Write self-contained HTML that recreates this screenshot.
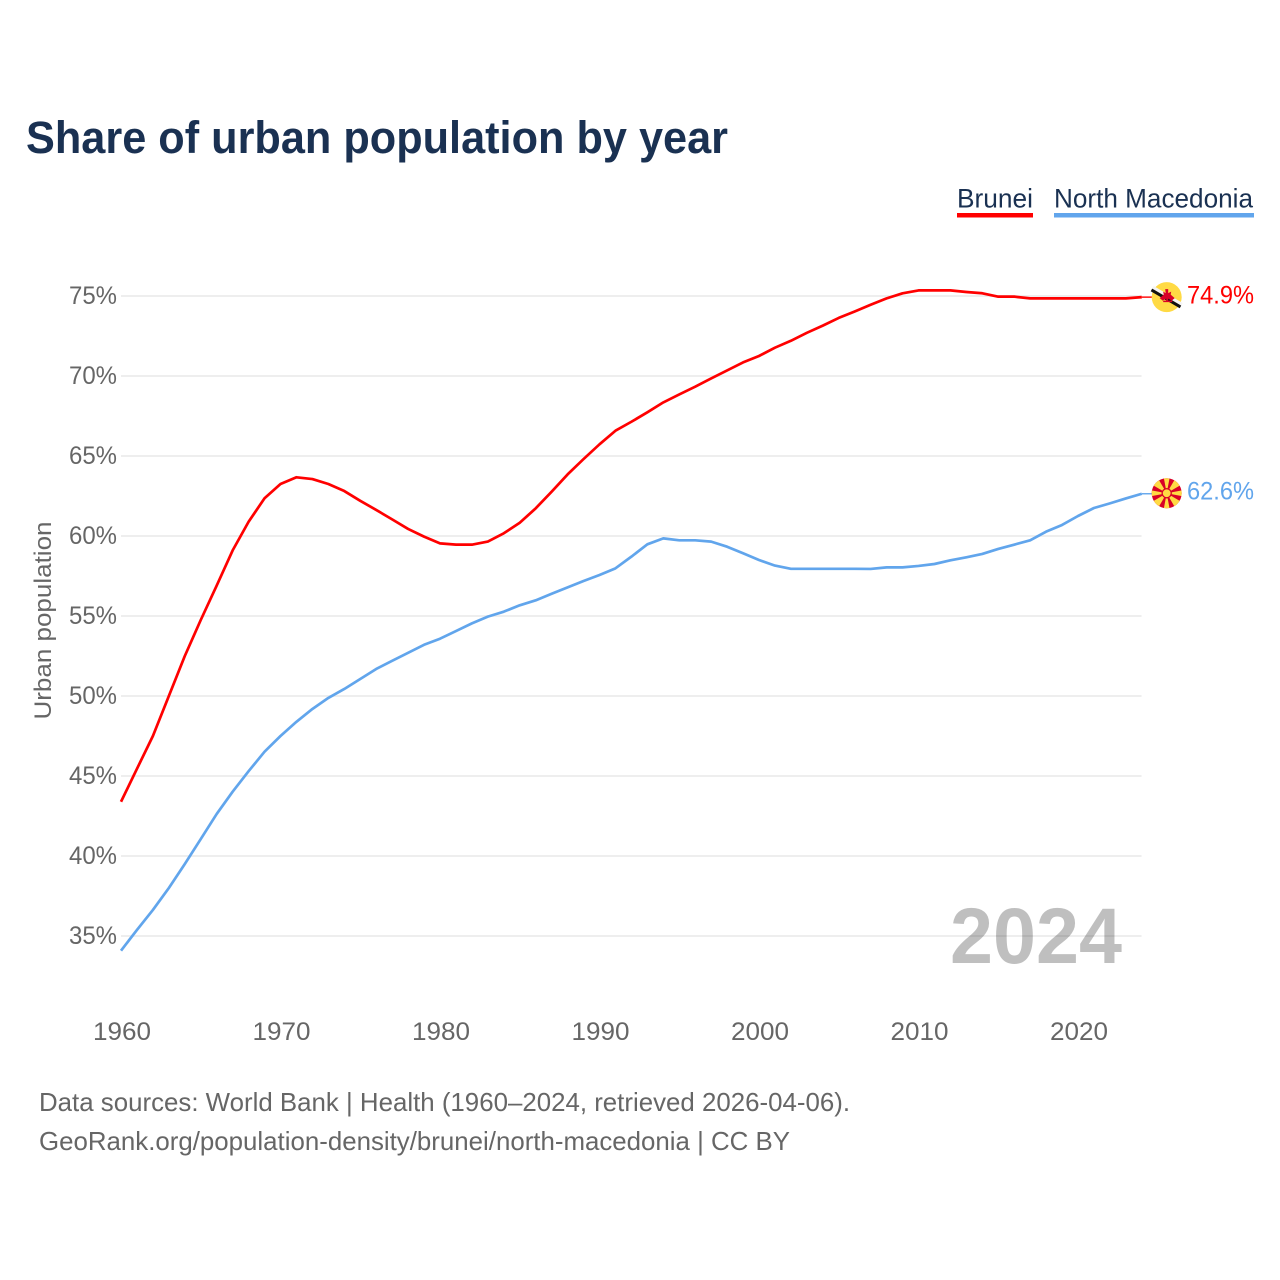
<!DOCTYPE html>
<html lang="en">
<head>
<meta charset="utf-8">
<title>Share of urban population by year</title>
<style>
html,body{margin:0;padding:0;background:#fff;}
svg{display:block;}
text{font-family:"Liberation Sans",sans-serif;}
</style>
</head>
<body>
<svg id="chart" xmlns="http://www.w3.org/2000/svg" width="1280" height="1280" viewBox="0 0 1280 1280">
  <rect width="1280" height="1280" fill="#fff"/>
  <text x="26" y="153" font-size="45" font-weight="700" fill="#1a3152" textLength="702" lengthAdjust="spacingAndGlyphs">Share of urban population by year</text>

  <g>
    <text x="957" y="207.5" font-size="27" fill="#1a3152" textLength="76" lengthAdjust="spacingAndGlyphs">Brunei</text>
    <rect x="957" y="213" width="76" height="4.5" fill="#ff0000"/>
  </g>
  <g>
    <text x="1054" y="207.5" font-size="27" fill="#1a3152" textLength="199" lengthAdjust="spacingAndGlyphs">North Macedonia</text>
    <rect x="1054" y="213" width="200" height="4.5" fill="#61a5ec"/>
  </g>

  <g id="grid"></g>
  <g id="yticks"></g>
  <g id="xticks"></g>
  <text transform="translate(51,620.5) rotate(-90)" text-anchor="middle" font-size="24" fill="#666" textLength="198" lengthAdjust="spacingAndGlyphs">Urban population</text>

  <text x="950" y="963" font-size="79" font-weight="700" fill="#000" fill-opacity="0.25" textLength="172" lengthAdjust="spacingAndGlyphs">2024</text>

  <g id="series"></g>

  <g id="flag-brunei">
    <circle cx="0" cy="0" r="15" fill="#ffda44"/>
    <polygon points="-14.5,-8.5 14.5,8.5 16,5.9 -13,-11.1" fill="#f4f4f4"/>
    <polygon points="-14.5,-8.5 14.5,8.5 13,11.1 -16,-5.9" fill="#111"/>
    <path d="M-1.5,-8 h3 v4 l3,-1.5 l-0.5,3 l4,3.5 l-3,2.5 l-3.5,-2 v2 h4 v1.5 h-9 v-1.5 h3 v-2 l-3.5,2 l-3,-2.5 l4,-3.5 l-0.5,-3 l2.5,1.5 z" fill="#d80027"/>
  </g>
  <g id="flag-macedonia">
    <circle cx="0" cy="0" r="15" fill="#d80027"/>
    <clipPath id="clip-mk"><circle cx="0" cy="0" r="15"/></clipPath>
    <g clip-path="url(#clip-mk)" fill="#ffda44">
      <polygon points="-3,-16 3,-16 0,0"/>
      <polygon points="-3,16 3,16 0,0"/>
      <polygon points="-16,-3 -16,3 0,0"/>
      <polygon points="16,-3 16,3 0,0"/>
      <polygon points="-14.5,-8.5 -8.5,-14.5 0,0"/>
      <polygon points="14.5,-8.5 8.5,-14.5 0,0"/>
      <polygon points="-14.5,8.5 -8.5,14.5 0,0"/>
      <polygon points="14.5,8.5 8.5,14.5 0,0"/>
    </g>
    <circle cx="0" cy="0" r="5.2" fill="#d80027"/>
    <circle cx="0" cy="0" r="3.9" fill="#ffda44"/>
  </g>

  <text id="label-brunei" font-size="25" fill="#ff0000" textLength="67" lengthAdjust="spacingAndGlyphs"></text>
  <text id="label-macedonia" font-size="25" fill="#61a5ec" textLength="67" lengthAdjust="spacingAndGlyphs"></text>

  <text x="39" y="1111" font-size="26" fill="#666" textLength="811" lengthAdjust="spacingAndGlyphs">Data sources: World Bank | Health (1960–2024, retrieved 2026-04-06).</text>
  <text x="39" y="1150" font-size="26" fill="#666" textLength="751" lengthAdjust="spacingAndGlyphs">GeoRank.org/population-density/brunei/north-macedonia | CC BY</text>
</svg>
<script>
const startYear = 1960;
const yTickValues = [35, 40, 45, 50, 55, 60, 65, 70, 75];
const xTickValues = [1960, 1970, 1980, 1990, 2000, 2010, 2020];
const bruneiValues = [
  43.39, 45.45, 47.5, 50.0, 52.5, 54.75, 56.9, 59.1, 60.89, 62.36,
  63.25, 63.67, 63.56, 63.25, 62.81, 62.2, 61.63, 61.04, 60.44, 59.96,
  59.54, 59.46, 59.46, 59.65, 60.17, 60.83, 61.73, 62.77, 63.85, 64.81,
  65.73, 66.58, 67.14, 67.73, 68.35, 68.85, 69.33, 69.85, 70.35, 70.85,
  71.25, 71.77, 72.2, 72.7, 73.15, 73.63, 74.03, 74.45, 74.85, 75.17,
  75.35, 75.35, 75.35, 75.25, 75.17, 74.96, 74.96, 74.85, 74.85, 74.85,
  74.85, 74.85, 74.85, 74.85, 74.93
];
const macedoniaValues = [
  34.08, 35.38, 36.63, 38.0, 39.5, 41.06, 42.63, 44.02, 45.3, 46.52,
  47.5, 48.39, 49.19, 49.88, 50.44, 51.06, 51.69, 52.2, 52.7, 53.2,
  53.58, 54.06, 54.54, 54.96, 55.27, 55.67, 55.98, 56.39, 56.79, 57.19,
  57.56, 57.98, 58.71, 59.48, 59.85, 59.73, 59.73, 59.65, 59.33, 58.92,
  58.5, 58.15, 57.95, 57.95, 57.95, 57.95, 57.95, 57.94, 58.04, 58.04,
  58.13, 58.25, 58.48, 58.67, 58.88, 59.19, 59.46, 59.73, 60.27, 60.69,
  61.25, 61.75, 62.04, 62.35, 62.64
];
const bruneiEndLabel = "74.9%";
const macedoniaEndLabel = "62.6%";

const NS = "http://www.w3.org/2000/svg";
function xScale(year) { return 121 + (year - 1960) * 15.95; }
function yScale(pct) { return 296 + (75 - pct) * 16; }

const grid = document.getElementById("grid");
const yticks = document.getElementById("yticks");
const xticks = document.getElementById("xticks");
const series = document.getElementById("series");

yTickValues.forEach(function (v) {
  const line = document.createElementNS(NS, "line");
  
  
  line.setAttribute("x1", 121);
  line.setAttribute("x2", 1141.5);
  line.setAttribute("y1", yScale(v));
  line.setAttribute("y2", yScale(v));
  line.setAttribute("stroke", "#eeeeee");
  line.setAttribute("stroke-width", "2");
  grid.appendChild(line);

  const t = document.createElementNS(NS, "text");
  
  
  t.setAttribute("x", 69);
  t.setAttribute("y", yScale(v) + 8);
  t.setAttribute("font-size", "25");
  t.setAttribute("fill", "#666");
  t.setAttribute("textLength", "48");
  t.setAttribute("lengthAdjust", "spacingAndGlyphs");
  t.textContent = v + "%";
  yticks.appendChild(t);
});

xTickValues.forEach(function (y) {
  const t = document.createElementNS(NS, "text");
  
  
  t.setAttribute("x", xScale(y) - 28);
  t.setAttribute("y", 1040);
  t.setAttribute("font-size", "25");
  t.setAttribute("fill", "#666");
  t.setAttribute("textLength", "58");
  t.setAttribute("lengthAdjust", "spacingAndGlyphs");
  t.textContent = y;
  xticks.appendChild(t);
});

function linePoints(values) {
  return values.map(function (v, i) {
    return xScale(startYear + i).toFixed(2) + "," + yScale(v).toFixed(2);
  }).join(" ");
}

const redLine = document.createElementNS(NS, "polyline");


redLine.setAttribute("points", linePoints(bruneiValues));
redLine.setAttribute("fill", "none");
redLine.setAttribute("stroke", "#ff0000");
redLine.setAttribute("stroke-width", "2.7");
redLine.setAttribute("stroke-linejoin", "round");
series.appendChild(redLine);

const blueLine = document.createElementNS(NS, "polyline");


blueLine.setAttribute("points", linePoints(macedoniaValues));
blueLine.setAttribute("fill", "none");
blueLine.setAttribute("stroke", "#61a5ec");
blueLine.setAttribute("stroke-width", "2.7");
blueLine.setAttribute("stroke-linejoin", "round");
series.appendChild(blueLine);

const bEnd = bruneiValues[bruneiValues.length - 1];
const mEnd = macedoniaValues[macedoniaValues.length - 1];

const redLeader = document.createElementNS(NS, "line");


redLeader.setAttribute("x1", xScale(2024));
redLeader.setAttribute("x2", 1152);
redLeader.setAttribute("y1", yScale(bEnd));
redLeader.setAttribute("y2", yScale(bEnd));
redLeader.setAttribute("stroke", "#ff0000");
redLeader.setAttribute("stroke-width", "1.4");
series.appendChild(redLeader);

const blueLeader = document.createElementNS(NS, "line");


blueLeader.setAttribute("x1", xScale(2024));
blueLeader.setAttribute("x2", 1152);
blueLeader.setAttribute("y1", yScale(mEnd));
blueLeader.setAttribute("y2", yScale(mEnd));
blueLeader.setAttribute("stroke", "#61a5ec");
blueLeader.setAttribute("stroke-width", "1.4");
series.appendChild(blueLeader);

document.getElementById("flag-brunei").setAttribute("transform", "translate(1166.7," + yScale(bEnd) + ")");
document.getElementById("flag-macedonia").setAttribute("transform", "translate(1166.7," + (yScale(mEnd) - 0.5) + ")");
const lb = document.getElementById("label-brunei");
lb.setAttribute("x", 1187);
lb.setAttribute("y", yScale(bEnd) + 6.5);
lb.textContent = bruneiEndLabel;
const lm = document.getElementById("label-macedonia");
lm.setAttribute("x", 1187);
lm.setAttribute("y", yScale(mEnd) + 5.7);
lm.textContent = macedoniaEndLabel;
</script>
</body>
</html>
